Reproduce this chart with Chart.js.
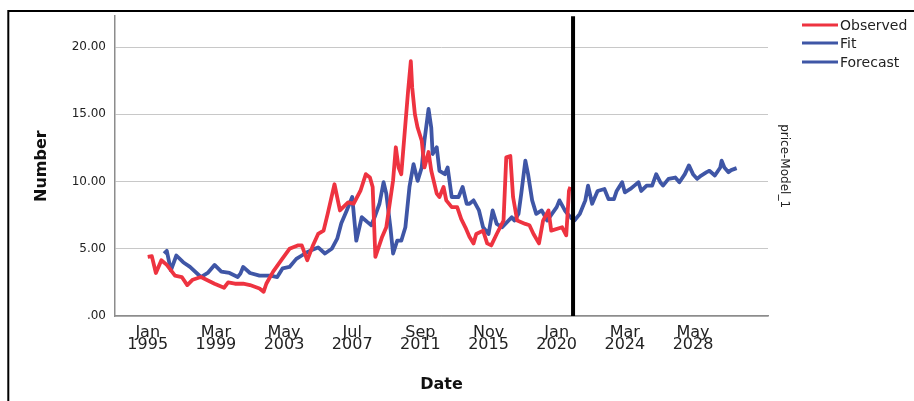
<!DOCTYPE html>
<html>
<head>
<meta charset="utf-8">
<script src="https://cdn.jsdelivr.net/npm/chart.js@4.4.0/dist/chart.umd.min.js"></script>
<style>
  html, body { margin: 0; padding: 0; background: #fff; }
  canvas { display: block; }
</style>
</head>
<body>
<canvas id="myChart" width="914" height="401"></canvas>
<script>
// months counted from Jan 1995
var obsMonths = [0, 3, 6, 10, 14, 20, 25, 29, 33, 39, 49, 56, 59, 64, 70, 75, 82, 85, 87, 92, 98, 104, 110, 113, 117, 121, 125, 129, 132, 137, 141, 147, 151, 156, 160, 163, 165, 167, 172, 175, 180, 182, 184, 186, 191, 193, 194, 196, 198, 201, 203, 206, 208, 212, 214, 217, 219, 223, 227, 230, 233, 236, 239, 241, 246, 249, 252, 256, 261, 263, 266, 268, 271, 277, 280, 283, 287, 290, 294, 296, 304, 307, 309, 310];
var obsValues = [4.4, 4.45, 3.2, 4.15, 3.8, 3.0, 2.9, 2.3, 2.7, 2.9, 2.4, 2.1, 2.5, 2.4, 2.4, 2.3, 2.05, 1.8, 2.4, 3.3, 4.15, 5.0, 5.25, 5.25, 4.15, 5.2, 6.1, 6.35, 7.6, 9.8, 7.85, 8.45, 8.35, 9.3, 10.55, 10.3, 9.6, 4.4, 5.9, 6.6, 10.1, 12.55, 11.05, 10.55, 16.75, 18.95, 17.0, 15.0, 14.0, 13.05, 11.05, 12.2, 10.8, 9.1, 8.85, 9.6, 8.6, 8.1, 8.1, 7.2, 6.6, 5.9, 5.4, 6.1, 6.35, 5.4, 5.25, 6.1, 7.1, 11.8, 11.9, 8.85, 7.1, 6.85, 6.75, 6.1, 5.4, 7.1, 7.85, 6.35, 6.6, 6.0, 9.3, 9.6];

var fitMonths = [12, 14, 17, 21, 26, 31, 39, 44, 49, 54, 60, 66, 68, 70, 75, 82, 90, 95, 99, 104, 109, 113, 117, 120, 125, 130, 135, 139, 142, 146, 150, 153, 157, 161, 164, 167, 170, 173, 175, 178, 180, 183, 186, 189, 192, 195, 198, 201, 203, 206, 208, 209, 212, 214, 218, 220, 223, 228, 231, 234, 236, 239, 243, 246, 250, 253, 256, 260, 267, 269, 272, 274, 277, 279, 282, 285, 289, 293, 300, 302, 306, 310];
var fitValues = [4.65, 4.85, 3.4, 4.5, 4.0, 3.65, 2.9, 3.2, 3.8, 3.3, 3.2, 2.9, 3.15, 3.65, 3.2, 3.0, 3.0, 2.9, 3.55, 3.65, 4.25, 4.5, 4.75, 4.9, 5.1, 4.65, 5.0, 5.75, 6.9, 7.85, 8.85, 5.6, 7.35, 7.0, 6.75, 7.5, 8.35, 9.95, 9.1, 6.6, 4.65, 5.6, 5.6, 6.6, 9.6, 11.3, 10.05, 11.05, 13.05, 15.4, 14.0, 12.05, 12.55, 10.8, 10.55, 11.05, 8.85, 8.85, 9.6, 8.35, 8.35, 8.6, 7.85, 6.6, 6.1, 7.85, 6.85, 6.6, 7.35, 7.1, 7.6, 9.1, 11.55, 10.55, 8.6, 7.6, 7.85, 7.1, 8.1, 8.6, 7.85, 7.35];

var forecastMonths = [310, 313, 317, 321, 323, 326, 330, 335, 338, 342, 344, 348, 350, 354, 357, 360, 362, 366, 370, 373, 376, 378, 382, 387, 390, 394, 397, 400, 403, 406, 410, 412, 416, 420, 421, 423, 426, 428, 432];
var forecastValues = [7.35, 7.1, 7.6, 8.6, 9.7, 8.35, 9.3, 9.45, 8.7, 8.7, 9.3, 9.95, 9.2, 9.45, 9.7, 9.95, 9.3, 9.7, 9.7, 10.55, 9.95, 9.7, 10.2, 10.3, 9.95, 10.55, 11.2, 10.55, 10.2, 10.45, 10.7, 10.8, 10.45, 11.05, 11.55, 11.05, 10.7, 10.85, 11.0];

var forecastStart = 312;
var xTicks = [0, 50, 100, 150, 200, 250, 300, 350, 400];
var yTicks = [0, 5, 10, 15, 20];
var monthNames = ['Jan', 'Feb', 'Mar', 'Apr', 'May', 'Jun', 'Jul', 'Aug', 'Sep', 'Oct', 'Nov', 'Dec'];

var FONT = "'DejaVu Sans', sans-serif";

function toPoints(months, values) {
    return months.map(function (m, i) { return { x: m, y: values[i] }; });
}

// border, forecast divider and legend
var extras = {
    id: 'extras',
    afterDatasetsDraw: function (chart) {
        var ctx = chart.ctx, area = chart.chartArea;
        var x = chart.scales.x.getPixelForValue(forecastStart);
        ctx.save();
        ctx.strokeStyle = '#000';
        ctx.lineWidth = 4;
        ctx.beginPath();
        ctx.moveTo(x, area.top);
        ctx.lineTo(x, area.bottom);
        ctx.stroke();
        ctx.restore();
    },
    afterDraw: function (chart) {
        var ctx = chart.ctx;
        ctx.save();
        ctx.strokeStyle = '#000';
        ctx.lineWidth = 2;
        ctx.strokeRect(8.3, 11, 1000, 1000);

        var rows = [25, 43, 62];
        ctx.font = '14px ' + FONT;
        ctx.textBaseline = 'middle';
        ctx.fillStyle = '#222';
        chart.data.datasets.forEach(function (ds, i) {
            ctx.strokeStyle = ds.borderColor;
            ctx.lineWidth = 3;
            ctx.beginPath();
            ctx.moveTo(802, rows[i]);
            ctx.lineTo(838, rows[i]);
            ctx.stroke();
            ctx.fillText(ds.label, 840, rows[i] + 1);
        });
        ctx.restore();
    }
};

var ctx = document.getElementById('myChart');
var myChart = new Chart(ctx, {
    type: 'line',
    data: {
        datasets: [{
            label: 'Observed',
            data: toPoints(obsMonths, obsValues),
            borderColor: '#ee3340',
            borderWidth: 3.8,
            pointRadius: 0,
            tension: 0,
            borderJoinStyle: 'round',
            fill: false
        }, {
            label: 'Fit',
            data: toPoints(fitMonths, fitValues),
            borderColor: '#3f56a6',
            borderWidth: 3.8,
            pointRadius: 0,
            tension: 0,
            borderJoinStyle: 'round',
            fill: false
        }, {
            label: 'Forecast',
            data: toPoints(forecastMonths, forecastValues),
            borderColor: '#3f56a6',
            borderWidth: 3.8,
            pointRadius: 0,
            tension: 0,
            borderJoinStyle: 'round',
            fill: false
        }]
    },
    options: {
        responsive: false,
        animation: false,
        layout: { padding: { top: 15, right: 116, left: 0, bottom: 0 } },
        plugins: {
            legend: { display: false },
            tooltip: { enabled: false }
        },
        scales: {
            x: {
                type: 'linear',
                min: -24,
                max: 455,
                afterBuildTicks: function (s) { s.ticks = xTicks.map(function (v) { return { value: v }; }); },
                afterFit: function (s) { s.height = 85; },
                grid: { display: false, drawTicks: false },
                border: { color: '#8c8c8c', width: 1.5 },
                ticks: {
                    padding: 10,
                    color: '#222',
                    maxRotation: 0,
                    autoSkip: false,
                    font: { family: FONT, size: 16, lineHeight: 0.8 },
                    callback: function (v) {
                        return [monthNames[v % 12], String(1995 + Math.floor(v / 12))];
                    }
                },
                title: {
                    display: true,
                    text: 'Date',
                    color: '#111',
                    font: { family: FONT, size: 16, weight: 'bold' },
                    padding: { top: 0, bottom: 7 }
                }
            },
            y: {
                position: 'left',
                min: 0,
                max: 22.3,
                afterBuildTicks: function (s) { s.ticks = yTicks.map(function (v) { return { value: v }; }); },
                afterFit: function (s) { s.width = 115; },
                grid: { color: '#c8c8c8', lineWidth: 1, drawTicks: false },
                border: { color: '#8c8c8c', width: 1.5 },
                ticks: {
                    padding: 9,
                    color: '#222',
                    font: { family: FONT, size: 12 },
                    callback: function (v) { return v === 0 ? '.00' : v.toFixed(2); }
                },
                title: {
                    display: true,
                    text: 'Number',
                    color: '#111',
                    font: { family: FONT, size: 16, weight: 'bold' },
                    padding: { top: 32, bottom: 0 }
                }
            },
            y2: {
                position: 'right',
                min: 0,
                max: 1,
                afterFit: function (s) { s.width = 30; },
                grid: { display: false, drawTicks: false },
                border: { display: false },
                ticks: { display: false },
                title: {
                    display: true,
                    text: 'price-Model_1',
                    color: '#222',
                    font: { family: FONT, size: 12 },
                    padding: { top: 7, bottom: 0 }
                }
            }
        }
    },
    plugins: [extras]
});
</script>
</body>
</html>
